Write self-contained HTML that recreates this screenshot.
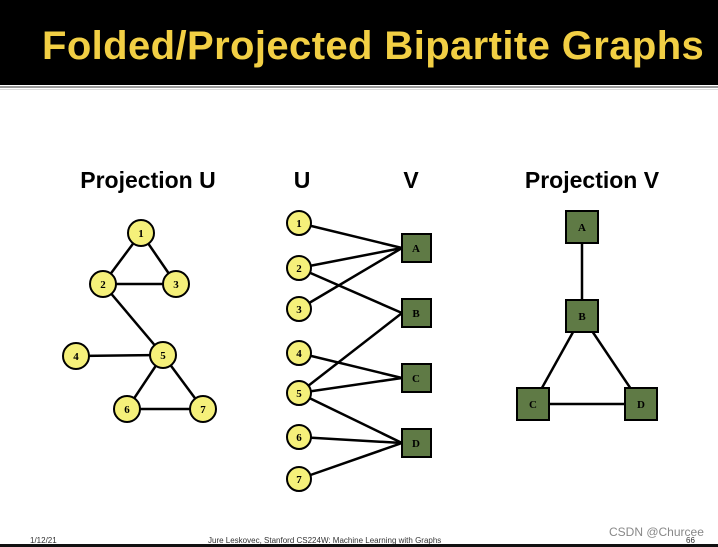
<!DOCTYPE html>
<html><head><meta charset="utf-8"><style>
html,body{margin:0;padding:0;background:#fff;}
body{width:718px;height:547px;position:relative;overflow:hidden;font-family:"Liberation Sans",sans-serif;}
.hdr{position:absolute;left:0;top:0;width:718px;height:85px;background:#000;}
.title{position:absolute;left:42px;top:24px;font-size:40px;font-weight:bold;color:#f2cf44;font-family:"Liberation Sans",sans-serif;letter-spacing:0.4px;white-space:nowrap;}
.line1{position:absolute;left:0;top:86px;width:718px;height:2px;background:#999;}
.line2{position:absolute;left:0;top:89px;width:718px;height:1px;background:#ddd;}
.foot{position:absolute;bottom:0;left:0;width:718px;height:3px;background:#111;}
.ft{position:absolute;font-size:8px;color:#333;white-space:nowrap;}
</style></head><body>
<div class="hdr"></div>
<div class="title">Folded/Projected Bipartite Graphs</div>
<div class="line1"></div><div class="line2"></div>
<svg width="718" height="547" style="position:absolute;left:0;top:0" font-family="Liberation Serif,serif">
<g font-family="Liberation Sans,sans-serif" font-weight="bold" font-size="23" fill="#000" text-anchor="middle">
<text x="148" y="188">Projection U</text>
<text x="302" y="188">U</text>
<text x="411" y="188">V</text>
<text x="592" y="188">Projection V</text>
</g>
<g stroke="#000" stroke-width="2.5">
<line x1="141" y1="233" x2="103" y2="284"/><line x1="141" y1="233" x2="176" y2="284"/>
<line x1="103" y1="284" x2="176" y2="284"/><line x1="103" y1="284" x2="163" y2="355"/>
<line x1="76" y1="356" x2="163" y2="355"/><line x1="163" y1="355" x2="127" y2="409"/>
<line x1="163" y1="355" x2="203" y2="409"/><line x1="127" y1="409" x2="203" y2="409"/>
<line x1="299" y1="223" x2="402" y2="248"/><line x1="299" y1="268" x2="402" y2="248"/>
<line x1="299" y1="309" x2="402" y2="248"/><line x1="299" y1="268" x2="402" y2="313"/>
<line x1="299" y1="393" x2="402" y2="313"/><line x1="299" y1="353" x2="402" y2="378"/>
<line x1="299" y1="393" x2="402" y2="378"/><line x1="299" y1="393" x2="402" y2="443"/>
<line x1="299" y1="437" x2="402" y2="443"/><line x1="299" y1="479" x2="402" y2="443"/>
<line x1="582" y1="227" x2="582" y2="316"/><line x1="582" y1="316" x2="533" y2="404"/>
<line x1="582" y1="316" x2="641" y2="404"/><line x1="533" y1="404" x2="641" y2="404"/>
</g>
<g fill="#f5f07a" stroke="#000" stroke-width="2">
<circle cx="141" cy="233" r="13"/><circle cx="103" cy="284" r="13"/><circle cx="176" cy="284" r="13"/>
<circle cx="76" cy="356" r="13"/><circle cx="163" cy="355" r="13"/><circle cx="127" cy="409" r="13"/><circle cx="203" cy="409" r="13"/>
<circle cx="299" cy="223" r="12"/><circle cx="299" cy="268" r="12"/><circle cx="299" cy="309" r="12"/>
<circle cx="299" cy="353" r="12"/><circle cx="299" cy="393" r="12"/><circle cx="299" cy="437" r="12"/><circle cx="299" cy="479" r="12"/>
</g>
<g fill="#5f7a45" stroke="#000" stroke-width="2">
<rect x="402" y="234" width="29" height="28"/><rect x="402" y="299" width="29" height="28"/>
<rect x="402" y="364" width="29" height="28"/><rect x="402" y="429" width="29" height="28"/>
<rect x="566" y="211" width="32" height="32"/><rect x="566" y="300" width="32" height="32"/>
<rect x="517" y="388" width="32" height="32"/><rect x="625" y="388" width="32" height="32"/>
</g>
<g font-weight="bold" font-size="11" text-anchor="middle" fill="#000">
<text x="141" y="237">1</text><text x="103" y="288">2</text><text x="176" y="288">3</text>
<text x="76" y="360">4</text><text x="163" y="359">5</text><text x="127" y="413">6</text><text x="203" y="413">7</text>
<text x="299" y="227">1</text><text x="299" y="272">2</text><text x="299" y="313">3</text>
<text x="299" y="357">4</text><text x="299" y="397">5</text><text x="299" y="441">6</text><text x="299" y="483">7</text>
<text x="416" y="252">A</text><text x="416" y="317">B</text><text x="416" y="382">C</text><text x="416" y="447">D</text>
<text x="582" y="231">A</text><text x="582" y="320">B</text><text x="533" y="408">C</text><text x="641" y="408">D</text>
</g>
</svg>
<div class="ft" style="left:30px;top:536px;">1/12/21</div>
<div class="ft" style="left:208px;top:536px;">Jure Leskovec, Stanford CS224W: Machine Learning with Graphs</div>
<div class="ft" style="left:686px;top:536px;">66</div>
<div class="ft" style="left:609px;top:525px;font-size:12px;color:#888;">CSDN @Churcee</div>
<div class="foot"></div>
</body></html>
